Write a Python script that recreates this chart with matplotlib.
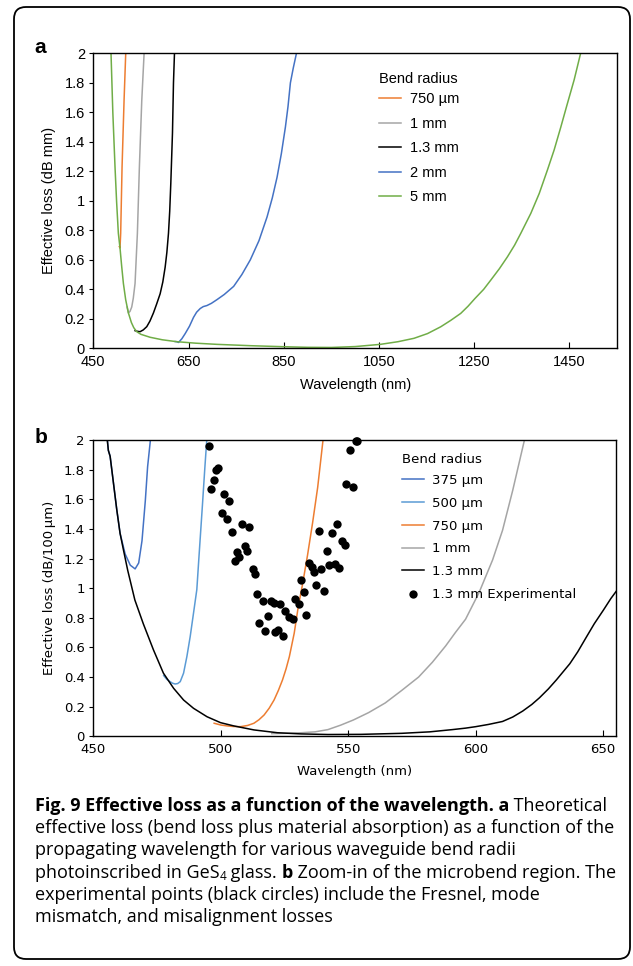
import numpy as np
import matplotlib
matplotlib.use("Agg")
import matplotlib.pyplot as plt
from matplotlib.patches import FancyBboxPatch
from matplotlib.ticker import FormatStrFormatter

# ---- panel a : theoretical effective loss (dB mm) ----
wl_a_750um = [504.7, 506.1, 507.5, 510.4, 514.6, 518.1]
loss_a_750um = [0.69, 0.68, 0.78, 1.23, 1.68, 2.0]

wl_a_1mm = [521.0, 523.7, 527.0, 530.7, 534.0, 537.7, 542.6, 546.8, 551.8, 556.7]
loss_a_1mm = [0.28, 0.24, 0.25, 0.28, 0.34, 0.44, 0.78, 1.23, 1.68, 2.0]

wl_a_13mm = [537.7, 543.0, 548.3, 555.0, 562.3, 569.0, 576.3, 583.0, 590.4, 596.0,
             600.9, 604.5, 607.9, 610.5, 612.8, 616.3, 618.4, 620.5]
loss_a_13mm = [0.12, 0.115, 0.113, 0.125, 0.147, 0.185, 0.24, 0.30, 0.37, 0.45,
               0.55, 0.65, 0.78, 0.93, 1.12, 1.46, 1.80, 2.0]

wl_a_2mm = [622.0, 625.5, 629.0, 636.0, 643.0, 652.0, 660.5, 667.0, 674.6, 681.0,
            688.6, 698.0, 709.7, 725.0, 744.8, 762.0, 779.8, 798.0, 814.9, 826.0,
            836.0, 845.0, 853.5, 859.0, 864.0, 870.0, 876.7]
loss_a_2mm = [0.046, 0.045, 0.04, 0.065, 0.10, 0.15, 0.21, 0.245, 0.27, 0.283,
              0.29, 0.305, 0.33, 0.365, 0.42, 0.50, 0.60, 0.73, 0.89, 1.02,
              1.16, 1.32, 1.50, 1.64, 1.80, 1.90, 2.0]

wl_a_5mm = [487.2, 491.0, 495.6, 499.0, 502.6, 506.1, 509.5, 513.2, 518.0, 523.7,
            530.0, 535.0, 541.2, 550.0, 569.3, 595.0, 625.5, 665.0, 709.7, 780.0,
            850.0, 900.0, 950.0, 1000.0, 1053.0, 1090.0, 1123.6, 1152.0, 1179.7,
            1201.0, 1221.8, 1237.0, 1252.0, 1270.0, 1285.0, 1303.0, 1320.0, 1335.0,
            1348.0, 1369.0, 1386.7, 1404.0, 1418.0, 1432.0, 1445.0, 1460.0, 1473.6]
loss_a_5mm = [2.0, 1.6, 1.23, 0.99, 0.78, 0.68, 0.56, 0.44, 0.33, 0.24,
              0.175, 0.14, 0.113, 0.095, 0.075, 0.058, 0.045, 0.035, 0.027, 0.018,
              0.011, 0.007, 0.006, 0.012, 0.027, 0.045, 0.068, 0.10, 0.146,
              0.19, 0.237, 0.285, 0.339, 0.40, 0.463, 0.54, 0.621, 0.70,
              0.78, 0.915, 1.05, 1.21, 1.345, 1.50, 1.65, 1.82, 2.0]

# ---- panel b : zoom-in (dB/100 um) ----
wl_b_375um = [455.5, 455.9, 456.6, 457.9, 459.2, 460.5, 462.5, 464.5, 466.4,
              467.8, 469.1, 470.4, 471.3, 472.4]
loss_b_375um = [2.0, 1.93, 1.89, 1.71, 1.53, 1.37, 1.23, 1.155, 1.13,
                1.17, 1.32, 1.59, 1.82, 2.0]

wl_b_500um = [477.6, 478.8, 480.1, 481.1, 482.1, 483.1, 484.1, 485.4, 486.7,
              488.0, 489.3, 490.6, 491.4, 492.8, 493.7, 494.5]
loss_b_500um = [0.41, 0.385, 0.369, 0.358, 0.353, 0.356, 0.369, 0.426, 0.538,
                0.673, 0.831, 0.99, 1.2, 1.56, 1.80, 2.0]

wl_b_750um = [497.4, 500.0, 502.5, 505.0, 507.8, 510.5, 513.0, 515.0, 517.0,
              519.0, 520.9, 522.6, 524.2, 525.6, 526.9, 528.8, 530.4, 532.0,
              534.0, 536.0, 538.0, 540.1]
loss_b_750um = [0.088, 0.076, 0.07, 0.066, 0.065, 0.073, 0.088, 0.112, 0.144,
                0.19, 0.245, 0.31, 0.38, 0.455, 0.538, 0.696, 0.876, 1.02,
                1.22, 1.44, 1.68, 2.0]

wl_b_1mm = [520.0, 526.0, 531.6, 537.0, 542.0, 547.0, 552.0, 558.0, 564.5, 571.0,
            577.6, 583.0, 588.2, 592.0, 596.0, 601.3, 606.6, 610.5, 614.5, 619.1]
loss_b_1mm = [0.018, 0.02, 0.024, 0.03, 0.045, 0.075, 0.11, 0.16, 0.225, 0.31,
              0.40, 0.50, 0.61, 0.70, 0.79, 0.97, 1.19, 1.39, 1.66, 2.0]

wl_b_13mm = [455.5, 455.9, 456.6, 457.9, 459.2, 460.5, 461.8, 463.5, 466.3,
             469.6, 473.6, 477.5, 481.5, 485.4, 489.3, 494.6, 499.9, 505.1,
             513.0, 522.2, 531.5, 542.0, 555.0, 571.0, 582.0, 590.8, 596.0,
             600.0, 605.0, 610.5, 614.5, 618.4, 622.0, 625.0, 628.5, 631.6,
             636.9, 640.0, 643.4, 646.5, 650.0, 653.0, 656.0]
loss_b_13mm = [2.0, 1.93, 1.89, 1.71, 1.53, 1.37, 1.26, 1.12, 0.92,
               0.76, 0.583, 0.426, 0.324, 0.245, 0.189, 0.132, 0.092, 0.07,
               0.043, 0.024, 0.016, 0.012, 0.013, 0.02, 0.03, 0.045, 0.055,
               0.065, 0.08, 0.10, 0.13, 0.17, 0.215, 0.26, 0.32, 0.38,
               0.49, 0.57, 0.67, 0.76, 0.85, 0.93, 1.0]

wl_exp = [495.2, 496.3, 497.4, 498.3, 499.1, 500.3, 501.3, 502.3, 503.3, 504.3,
          505.4, 506.4, 507.2, 508.3, 509.4, 510.3, 511.2, 512.5, 513.3, 514.2,
          515.1, 516.5, 517.4, 518.4, 519.5, 521.0, 521.4, 522.4, 523.3, 524.4,
          525.3, 526.7, 528.5, 529.3, 530.6, 531.6, 532.5, 533.6, 534.6, 535.8,
          536.6, 537.5, 538.6, 539.2, 540.5, 541.5, 542.5, 543.7, 544.7, 545.4,
          546.5, 547.4, 548.7, 549.3, 550.7, 551.7, 552.9, 553.6]
loss_exp = [1.96, 1.67, 1.73, 1.795, 1.81, 1.51, 1.635, 1.466, 1.59, 1.38,
            1.185, 1.245, 1.21, 1.434, 1.285, 1.25, 1.41, 1.128, 1.097, 0.96,
            0.763, 0.91, 0.71, 0.815, 0.91, 0.90, 0.707, 0.72, 0.89, 0.68,
            0.845, 0.808, 0.793, 0.926, 0.892, 1.056, 0.977, 0.82, 1.169, 1.142,
            1.108, 1.022, 1.383, 1.128, 0.982, 1.254, 1.157, 1.37, 1.162, 1.435,
            1.135, 1.315, 1.293, 1.70, 1.93, 1.68, 1.99, 1.995]

ORANGE, GRAY, BLUE, LBLUE, GREEN = "#ED7D31", "#A5A5A5", "#4472C4", "#5B9BD5", "#70AD47"

caption = [
    [("Fig. 9 Effective loss as a function of the wavelength. a", "bold"), (" Theoretical", "normal")],
    [("effective loss (bend loss plus material absorption) as a function of the", "normal")],
    [("propagating wavelength for various waveguide bend radii", "normal")],
    [("photoinscribed in GeS", "normal"), ("4", "sub"), (" glass. ", "normal"), ("b", "bold"),
     (" Zoom-in of the microbend region. The", "normal")],
    [("experimental points (black circles) include the Fresnel, mode", "normal")],
    [("mismatch, and misalignment losses", "normal")],
]

fig = plt.figure(figsize=(6.33, 9.66), dpi=100)

# rounded frame around the whole figure
frame = FancyBboxPatch((0.14, 0.07), 6.16, 9.52, boxstyle="round,pad=0,rounding_size=0.12",
                       transform=fig.dpi_scale_trans, fill=False, ec="black", lw=1.3)
fig.patches.append(frame)

# ---------------- panel a ----------------
fa = "Liberation Sans"
ax = fig.add_axes([0.1474, 0.6394, 0.8273, 0.3054])
ax.plot(wl_a_750um, loss_a_750um, color=ORANGE, lw=1.1, label="750 \u00b5m")
ax.plot(wl_a_1mm, loss_a_1mm, color=GRAY, lw=1.1, label="1 mm")
ax.plot(wl_a_13mm, loss_a_13mm, color="black", lw=1.1, label="1.3 mm")
ax.plot(wl_a_2mm, loss_a_2mm, color=BLUE, lw=1.1, label="2 mm")
ax.plot(wl_a_5mm, loss_a_5mm, color=GREEN, lw=1.1, label="5 mm")
ax.set_xlim(450, 1550)
ax.set_ylim(0, 2)
ax.set_xticks(np.arange(450, 1451, 200))
ax.set_yticks(np.arange(0, 2.01, 0.2))
ax.yaxis.set_major_formatter(FormatStrFormatter("%g"))
ax.tick_params(axis="x", direction="in", length=4, width=0.8, labelsize=10.5, pad=5)
ax.tick_params(axis="y", direction="out", length=3, width=0.8, labelsize=10.5, pad=3)
for lab in ax.get_xticklabels() + ax.get_yticklabels():
    lab.set_fontfamily(fa)
for s in ax.spines.values():
    s.set_linewidth(1.0)
ax.set_xlabel("Wavelength (nm)", fontfamily=fa, fontsize=10.5, labelpad=6)
ax.set_ylabel("Effective loss (dB mm)", fontfamily=fa, fontsize=10.5, labelpad=6)
leg = ax.legend(title="Bend radius", loc="upper left", bbox_to_anchor=(0.535, 0.958),
                frameon=False, prop={"family": fa, "size": 10.5}, handlelength=1.5,
                handletextpad=0.6, labelspacing=0.72, borderaxespad=0)
leg.get_title().set_fontfamily(fa)
leg.get_title().set_fontsize(10.5)
leg._legend_box.align = "left"
leg._legend_box.sep = 5
fig.text(0.055, 0.951, "a", fontfamily=fa, fontweight="bold", fontsize=15, va="center")

# ---------------- panel b ----------------
fb = "DejaVu Sans"
bx = fig.add_axes([0.1474, 0.2378, 0.8257, 0.3067])
bx.plot(wl_b_375um, loss_b_375um, color=BLUE, lw=1.1, label="375 \u00b5m")
bx.plot(wl_b_500um, loss_b_500um, color=LBLUE, lw=1.1, label="500 \u00b5m")
bx.plot(wl_b_750um, loss_b_750um, color=ORANGE, lw=1.1, label="750 \u00b5m")
bx.plot(wl_b_1mm, loss_b_1mm, color=GRAY, lw=1.1, label="1 mm")
bx.plot(wl_b_13mm, loss_b_13mm, color="black", lw=1.1, label="1.3 mm")
bx.scatter(wl_exp, loss_exp, s=36, color="black", lw=0, zorder=5, clip_on=False,
           label="1.3 mm Experimental")
bx.set_xlim(450, 655)
bx.set_ylim(0, 2)
bx.set_xticks(np.arange(450, 651, 50))
bx.set_yticks(np.arange(0, 2.01, 0.2))
bx.yaxis.set_major_formatter(FormatStrFormatter("%g"))
bx.tick_params(axis="x", direction="in", length=4, width=0.8, labelsize=9.5, pad=5)
bx.tick_params(axis="y", direction="out", length=3, width=0.8, labelsize=9.5, pad=3)
for s in bx.spines.values():
    s.set_linewidth(1.0)
bx.set_xlabel("Wavelength (nm)", fontfamily=fb, fontsize=9.5, labelpad=6)
bx.set_ylabel("Effective loss (dB/100\u2009\u00b5m)", fontfamily=fb, fontsize=9.5, labelpad=6)
leg = bx.legend(title="Bend radius", loc="upper left", bbox_to_anchor=(0.58, 0.975),
                frameon=False, prop={"family": fb, "size": 9.5}, handlelength=1.7,
                handletextpad=0.6, labelspacing=0.74, borderaxespad=0)
leg.get_title().set_fontsize(9.5)
leg._legend_box.align = "left"
leg._legend_box.sep = 6
fig.text(0.055, 0.547, "b", fontfamily=fa, fontweight="bold", fontsize=15, va="center")

# ---------------- caption ----------------
fc = "Open Sans"
fs = 13.0
renderer = fig.canvas.get_renderer()
y0 = 1 - 811 / 966.0
for i, line in enumerate(caption):
    x = 35 / 633.0
    y = y0 - i * 22.2 / 966.0
    for txt, kind in line:
        if kind == "sub":
            t = fig.text(x, y - 0.003, txt, fontfamily=fc, fontsize=fs * 0.65, va="baseline")
        else:
            t = fig.text(x, y, txt, fontfamily=fc, fontsize=fs, va="baseline",
                         fontweight="bold" if kind == "bold" else "normal")
        bb = t.get_window_extent(renderer)
        x += bb.width / fig.bbox.width

fig.savefig("out.png", dpi=100)
